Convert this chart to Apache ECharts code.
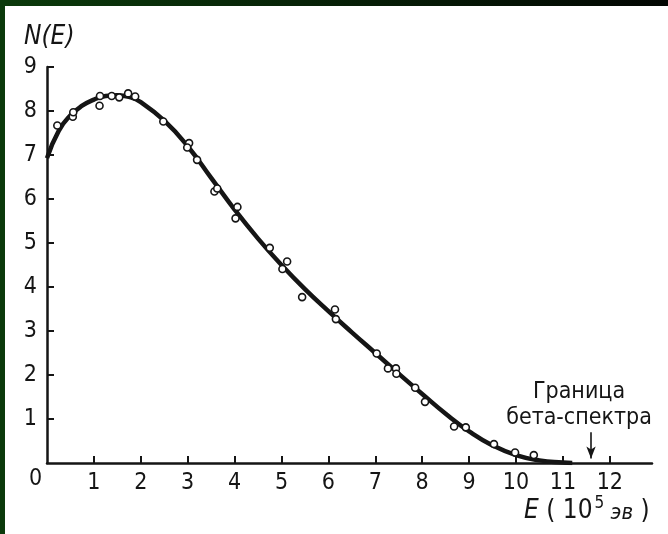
<!DOCTYPE html>
<html>
<head>
<meta charset="utf-8">
<script src="https://cdn.jsdelivr.net/npm/echarts@6/dist/echarts.min.js"></script>
<style>
html,body{margin:0;padding:0;background:#fff;}
#c{width:668px;height:534px;}
</style>
</head>
<body>
<div id="c"></div>
<script>
// Fitted beta-spectrum curve
const curveX = [0, 0.25, 0.5, 0.75, 1.0, 1.25, 1.5, 1.75, 2.0, 2.5, 3.0, 3.5, 4.0, 4.5, 5.0, 5.5, 6.0, 6.5, 7.0, 7.5, 8.0, 8.5, 9.0, 9.5, 10.0, 10.5, 11.0, 11.2];
const curveY = [6.93, 7.55, 7.9, 8.12, 8.26, 8.34, 8.36, 8.32, 8.2, 7.78, 7.2, 6.48, 5.76, 5.1, 4.5, 3.95, 3.45, 2.97, 2.5, 2.03, 1.57, 1.12, 0.72, 0.4, 0.18, 0.06, 0.01, 0.0];
// Measured points
const ptX = [0.22, 0.55, 0.56, 1.12, 1.13, 1.38, 1.54, 1.73, 1.88, 2.48, 3.03, 2.99, 3.2, 3.57, 3.63, 4.06, 4.02, 4.75, 5.12, 5.02, 5.44, 6.14, 6.16, 7.03, 7.27, 7.44, 7.45, 7.85, 8.06, 8.68, 8.93, 9.53, 9.98, 10.38];
const ptY = [7.67, 7.87, 7.97, 8.12, 8.34, 8.34, 8.31, 8.40, 8.33, 7.76, 7.27, 7.17, 6.89, 6.17, 6.24, 5.82, 5.56, 4.89, 4.58, 4.41, 3.77, 3.49, 3.27, 2.49, 2.15, 2.15, 2.03, 1.71, 1.39, 0.83, 0.81, 0.43, 0.24, 0.18];
const xTicks = [1, 2, 3, 4, 5, 6, 7, 8, 9, 10, 11, 12];
const yTicks = [1, 2, 3, 4, 5, 6, 7, 8, 9];
const boundaryE = 11.6;
const arrowFrom = 0.7, arrowTo = 0.1;

const FONT = '"Liberation Sans Narrow","DejaVu Sans Condensed","Roboto Condensed","Liberation Sans",sans-serif';
const INK = '#151515';

const chart = echarts.init(document.getElementById('c'), null, {renderer: 'canvas'});
chart.setOption({
  backgroundColor: '#ffffff',
  animation: false,
  grid: {left: 47, top: 67, right: 16, bottom: 71, containLabel: false},
  xAxis: {
    type: 'value', min: 0, max: 12.9, interval: 1,
    axisLine: {show: true, onZero: false, lineStyle: {color: INK, width: 2.5}},
    axisTick: {show: true, inside: true, length: 7, customValues: xTicks, lineStyle: {color: INK, width: 2}},
    axisLabel: {show: true, customValues: xTicks, margin: 9, fontFamily: FONT, fontSize: 23, color: INK},
    splitLine: {show: false}
  },
  yAxis: {
    type: 'value', min: 0, max: 9, interval: 1,
    axisLine: {show: true, onZero: false, lineStyle: {color: INK, width: 2.5}},
    axisTick: {show: true, inside: true, length: 7, customValues: yTicks, lineStyle: {color: INK, width: 2}},
    axisLabel: {show: true, customValues: yTicks, margin: 10, fontFamily: FONT, fontSize: 23, color: INK},
    splitLine: {show: false}
  },
  series: [
    {
      type: 'line', smooth: true, showSymbol: false, z: 2,
      lineStyle: {color: INK, width: 4.5},
      data: curveX.map((x, i) => [x, curveY[i]])
    },
    {
      type: 'scatter', z: 3, symbol: 'circle', symbolSize: 7,
      itemStyle: {color: '#ffffff', borderColor: INK, borderWidth: 1.6, opacity: 1},
      data: ptX.map((x, i) => [x, ptY[i]]),
      markLine: {
        silent: true, symbol: ['none', 'arrow'], symbolSize: [7, 12],
        label: {show: false},
        lineStyle: {color: INK, width: 1.6, type: 'solid'},
        data: [[{coord: [boundaryE, arrowFrom]}, {coord: [boundaryE, arrowTo]}]]
      }
    }
  ],
  graphic: [
    {type: 'rect', left: 0, top: 0, shape: {width: 668, height: 6}, silent: true,
      style: {fill: new echarts.graphic.LinearGradient(0, 0, 1, 0, [{offset: 0, color: '#0b3a0b'}, {offset: 1, color: '#020602'}])}},
    {type: 'rect', left: 0, top: 0, shape: {width: 5, height: 534}, silent: true, style: {fill: '#0b3a0b'}},
    {type: 'text', left: 24, top: 24, style: {text: 'N(E)', font: 'italic 26px ' + FONT, fill: INK}},
    {type: 'text', left: 29, top: 468, style: {text: '0', font: '23px ' + FONT, fill: INK}},
    {type: 'text', left: 524, top: 495, style: {
      text: '{i|E}{n| ( 10}{s|5}{e| эв}{n| )}',
      rich: {
        i: {font: 'italic 26px ' + FONT, fill: INK, verticalAlign: 'bottom'},
        n: {font: '26px ' + FONT, fill: INK, verticalAlign: 'bottom'},
        s: {font: '17px ' + FONT, fill: INK, verticalAlign: 'top', padding: [0, 0, 12, 2]},
        e: {font: 'italic 22px ' + FONT, fill: INK, verticalAlign: 'bottom'}
      }
    }},
    {type: 'text', x: 579, y: 392, style: {text: 'Граница', font: '23px ' + FONT, fill: INK, align: 'center', verticalAlign: 'middle'}},
    {type: 'text', x: 579, y: 418, style: {text: 'бета-спектра', font: '23px ' + FONT, fill: INK, align: 'center', verticalAlign: 'middle'}}
  ]
});
</script>
</body>
</html>
